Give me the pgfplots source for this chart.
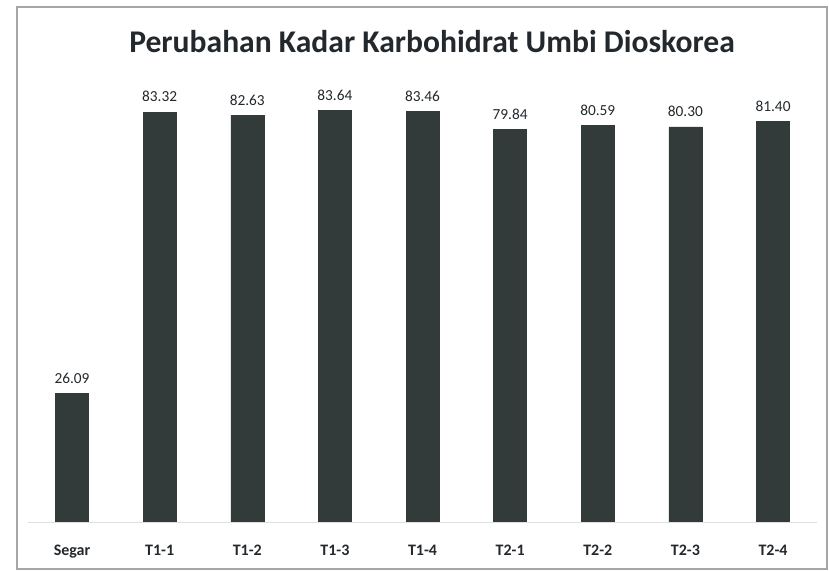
\documentclass[border=0pt]{standalone}
\usepackage{pgfplots}
\pgfplotsset{compat=1.18}
\usepackage{fontspec}
\setmainfont{Carlito}
\definecolor{barc}{RGB}{50,58,58}
\definecolor{txt}{RGB}{35,40,45}
\begin{document}
\begin{tikzpicture}
\useasboundingbox (0,0) rectangle (621.75pt,428.25pt);
\draw[gray!70, line width=0.8pt] (12.75pt,1.5pt) rectangle (620.25pt,423pt);
\node[font=\bfseries\fontsize{23.7}{27}\selectfont, text=txt] at (324pt,396.75pt) {Perubahan Kadar Karbohidrat Umbi Dioskorea};
\begin{axis}[
  at={(21.15pt,36.75pt)}, anchor=south west,
  scale only axis, width=591.5pt, height=369pt,
  xmin=-0.5, xmax=8.5, ymin=0, ymax=100,
  axis y line=none,
  axis x line*=bottom,
  x axis line style={gray!25, line width=0.6pt, -},
  xtick=data,
  xticklabels={Segar,T1-1,T1-2,T1-3,T1-4,T2-1,T2-2,T2-3,T2-4},
  xtick style={draw=none},
  xticklabel style={font=\bfseries\fontsize{12}{14}\selectfont, text=txt, yshift=-9.5pt},
  ybar, bar width=24.75pt,
  nodes near coords,
  nodes near coords style={font=\fontsize{11.5}{13}\selectfont, text=txt, yshift=4pt,
    /pgf/number format/.cd, fixed, fixed zerofill, precision=2, assume math mode=true},
  /pgf/number format/assume math mode=true,
]
\addplot[fill=barc, draw=barc] coordinates {
(0,26.09) (1,83.32) (2,82.63) (3,83.64) (4,83.46) (5,79.84) (6,80.59) (7,80.30) (8,81.40)};
\end{axis}
\end{tikzpicture}
\end{document}
